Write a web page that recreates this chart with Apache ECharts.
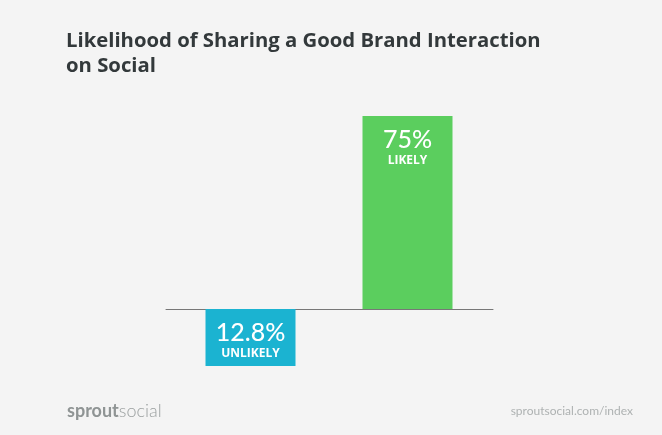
<!DOCTYPE html>
<html>
<head>
<meta charset="utf-8">
<style>
html, body { margin: 0; padding: 0; background: #f4f4f4; }
#chart { width: 662px; height: 435px; }
</style>
<script src="https://cdn.jsdelivr.net/npm/echarts@6/dist/echarts.min.js"></script>
</head>
<body>
<div id="chart"></div>
<script>
var categories = ['UNLIKELY', 'LIKELY']
var likelyValues = [null, 75]
var unlikelyValues = [-12.8, null]
var valueLabels = ['12.8%', '75%']

function barLabel (params) {
    return '{val|' + valueLabels[params.dataIndex] + '}\n{name|' + categories[params.dataIndex] + '}'
}

var labelStyle = {
    show: true,
    position: 'insideTop',
    distance: 9,
    formatter: barLabel,
    rich: {
        val: { fontFamily: 'Lato', fontSize: 25, fontWeight: 500, color: '#fff', lineHeight: 29, align: 'center' },
        name: { fontFamily: 'Open Sans', fontSize: 12, fontWeight: 'bold', color: '#fff', lineHeight: 14, align: 'center' }
    }
}

var chart = echarts.init(document.getElementById('chart'))
chart.setOption({
    backgroundColor: '#f4f4f4',
    animation: false,
    title: [{
        text: 'Likelihood of Sharing a Good Brand Interaction\non Social',
        left: 61,
        top: 24,
        textStyle: { fontFamily: 'Open Sans', fontSize: 20.3, fontWeight: 'bold', color: '#33393b', lineHeight: 25 }
    }, {
        text: '{a|sprout}{b|social}',
        left: 62,
        top: 397,
        textStyle: {
            rich: {
                a: { fontFamily: 'Lato', fontSize: 18, fontWeight: 'bold', color: '#8f9494' },
                b: { fontFamily: 'Lato', fontSize: 18, fontWeight: 300, color: '#9a9f9f' }
            }
        }
    }, {
        text: 'sproutsocial.com/index',
        right: 24,
        top: 400,
        textStyle: { fontFamily: 'Lato', fontSize: 12, fontWeight: 'normal', color: '#aeb2b2' }
    }],
    grid: [
        // baseline runs wider than the bar bands
        { left: 166, width: 327, top: 309, height: 1 },
        { left: 172, width: 314, top: 116, height: 250 }
    ],
    xAxis: [{
        gridIndex: 0,
        type: 'value',
        min: 0,
        max: 1,
        position: 'top',
        axisLine: { show: true, onZero: false, lineStyle: { color: '#777', width: 1 } },
        axisTick: { show: false },
        axisLabel: { show: false },
        splitLine: { show: false }
    }, {
        gridIndex: 1,
        type: 'category',
        data: categories,
        axisLine: { show: false },
        axisTick: { show: false },
        axisLabel: { show: false }
    }],
    // the source draws the two bars on different scales, both with zero on the baseline
    yAxis: [{
        gridIndex: 0,
        show: false
    }, {
        gridIndex: 1,
        type: 'value',
        show: false,
        min: -22.15,
        max: 75,
        splitLine: { show: false }
    }, {
        gridIndex: 1,
        type: 'value',
        show: false,
        min: -12.8,
        max: 43.34,
        splitLine: { show: false }
    }],
    series: [{
        name: 'Likely',
        type: 'bar',
        xAxisIndex: 1,
        yAxisIndex: 1,
        barWidth: 90,
        barGap: '-100%',
        data: likelyValues,
        itemStyle: { color: '#5bce5e' },
        label: labelStyle
    }, {
        name: 'Unlikely',
        type: 'bar',
        xAxisIndex: 1,
        yAxisIndex: 2,
        barWidth: 90,
        barGap: '-100%',
        data: unlikelyValues,
        itemStyle: { color: '#1bb3d1' },
        label: labelStyle
    }]
})
</script>
</body>
</html>
